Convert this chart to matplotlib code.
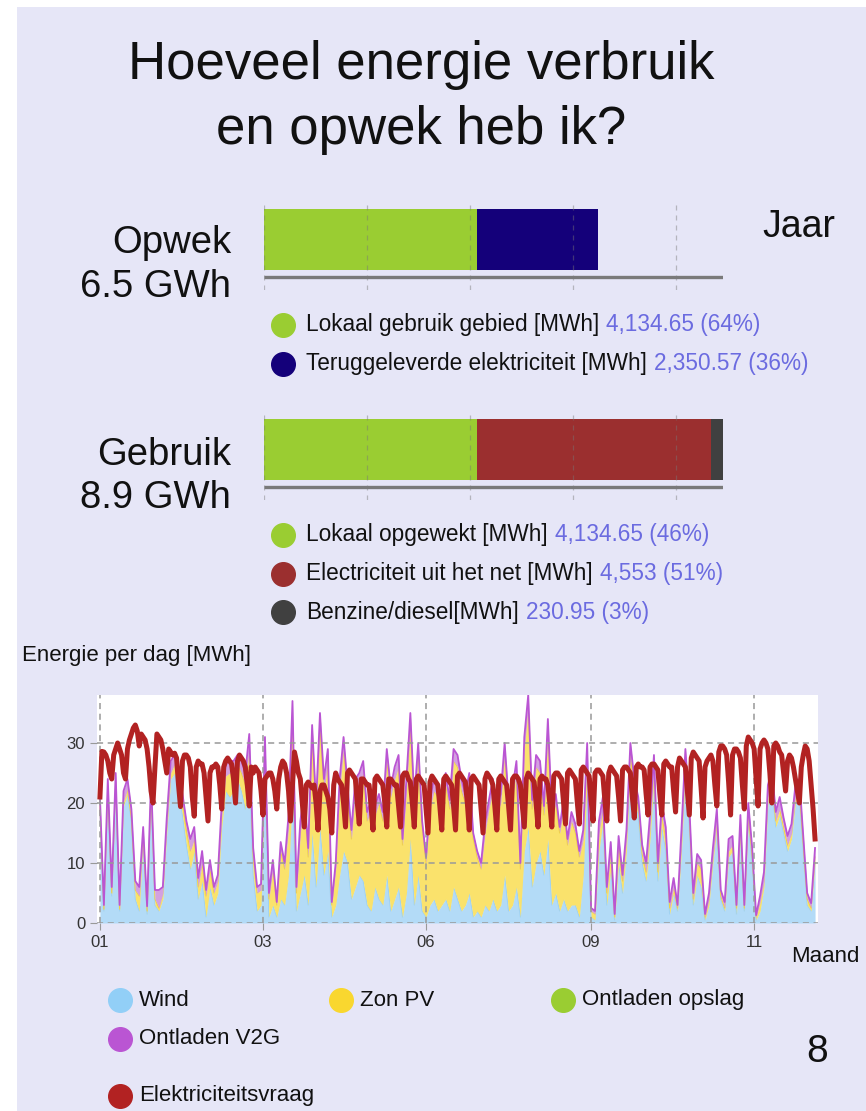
import matplotlib
matplotlib.use("Agg")
import matplotlib.pyplot as plt
from matplotlib.patches import Rectangle
import numpy as np

plt.rcParams['font.family'] = ['Liberation Sans', 'DejaVu Sans']

# ---- data ----
opwek_labels = ['Lokaal gebruik gebied [MWh]', 'Teruggeleverde elektriciteit [MWh]']
opwek_values = [4134.65, 2350.57]
opwek_colors = ['#9ACD32', '#14007A']

gebruik_labels = ['Lokaal opgewekt [MWh]', 'Electriciteit uit het net [MWh]', 'Benzine/diesel[MWh]']
gebruik_values = [4134.65, 4553, 230.95]
gebruik_colors = ['#9ACD32', '#9B2F2F', '#404040']

bar_ticks = [0, 2000, 4000, 6000, 8000]

month_ticks = [0, 83, 166, 250, 333]
month_labels = ['01', '03', '06', '09', '11']

# elektriciteitsvraag per dag (MWh)
demand = [
    21, 28.6, 28.5, 28, 27, 25, 24,
    28, 29, 30, 29, 28, 25, 24,
    29, 30.5, 31.5, 32.5, 33, 32, 29.5,
    31.5, 31, 30.5, 29, 26, 22, 20,
    26, 31.5, 31, 30.5, 29, 27, 25,
    29, 28.5, 28, 28.3, 27.5, 23, 19.4,
    27, 28, 28, 27.5, 26, 21, 17.8,
    26, 27, 26.5, 26.5, 25, 21, 17,
    25, 26, 26, 26.5, 26, 23, 19,
    26, 27, 27.5, 27, 26.5, 24, 20,
    27, 28, 27.5, 27, 26, 23, 19.5,
    26, 25, 26, 25.5, 25, 22, 18,
    24, 24.5, 25, 25, 24, 22, 19,
    24, 26, 27, 26.5, 25, 22, 17,
    23, 28.5, 27, 25, 24, 20, 16,
    23, 23.5, 23, 22.5, 23, 20, 15.5,
    22, 23, 23, 22, 21, 19, 15,
    23, 25, 24, 23.5, 23, 20, 16,
    25, 25.5, 25, 24.5, 24, 20, 16.5,
    24, 24, 23.5, 23, 23, 19.5, 15.5,
    24, 24.5, 24, 23.5, 23, 20, 16,
    24, 24, 23.5, 23, 23, 19.5, 16,
    24.5, 25, 25, 24, 23.5, 20, 16,
    24, 24.5, 24, 23.5, 23, 19, 15,
    23.5, 24.5, 24, 23.5, 23, 19.5, 15.5,
    24, 24.5, 24, 23.5, 23, 19.5, 15.5,
    24.5, 25, 24.5, 24, 23.5, 20, 15.5,
    24, 24.5, 24, 23.5, 23, 19, 15,
    24, 25, 24.5, 24, 23, 19.5, 15.5,
    24, 24.5, 24, 23.5, 23, 19.5, 15.5,
    24, 24.5, 24.5, 24, 23, 19.5, 16,
    24, 25, 24.5, 24, 23.5, 20, 16,
    24, 24.5, 24, 24, 23, 20, 16,
    24.5, 25, 25, 24.5, 24, 20, 16.5,
    25, 25.5, 25, 24.5, 24, 20, 16.5,
    25.5, 26, 25.5, 25, 24.5, 20.5, 17,
    25, 25.5, 25.5, 25, 24.5, 20.5, 17,
    25, 26, 25.5, 25, 24.5, 21, 17,
    25.5, 26, 26, 25.5, 25, 21, 17.5,
    26, 26.5, 26, 26, 25.5, 21.5, 18,
    26, 26.5, 26.5, 26, 25.5, 21.5, 18,
    26.5, 27, 26.5, 26, 26, 22, 18.5,
    26, 27.5, 27, 26.5, 26, 22, 18,
    27.5, 28.5, 28, 27.5, 27, 22.5, 17.5,
    26, 27, 27.5, 28, 27, 23, 19.5,
    28.5, 29.5, 29.5, 29, 28, 23.5, 18,
    28, 29, 29, 28.5, 27.5, 23, 19,
    29.5, 31, 30.5, 30, 29, 24, 19.5,
    29, 30, 30.5, 30, 29, 25, 20,
    29.5, 30, 29.5, 28.5, 28, 25, 22,
    27, 28, 27.5, 26, 24, 22, 20,
    26, 28, 29.5, 29, 27, 23, 19,
    14,
]

# opwek, elke twee dagen (MWh/dag)
supply_days = list(range(0, 365, 2))
wind = [
    19, 2, 22, 4.5, 23, 2, 19.5, 21.5, 17, 4,
    2, 14, 1.5, 22, 3, 2, 4, 15, 24, 25,
    22, 18, 13, 9, 12, 4, 7, 1, 6, 3,
    5, 16, 22, 21, 22, 24, 22, 19, 26, 8,
    2, 3, 26, 1, 3, 1, 4, 3, 8, 22,
    2, 5, 8, 3, 15, 6, 16, 8, 12, 1,
    3, 8, 12, 10, 4, 6, 8, 7, 3, 2,
    6, 4, 3, 8, 2, 4, 6, 1, 5, 14,
    3, 8, 2, 1, 3, 4, 2, 3, 4, 2,
    6, 4, 2, 3, 5, 1, 2, 1, 3, 2,
    4, 2, 3, 8, 2, 3, 6, 1, 12, 16,
    6, 10, 12, 8, 14, 3, 5, 2, 4, 2,
    3, 3, 1, 8, 24, 1, 0.5, 12, 17, 3,
    9, 0.5, 10, 5, 12, 26, 20, 18, 10, 7,
    14, 24, 7, 16, 12, 1.5, 5, 2, 12, 25,
    16, 3, 8, 6, 0.5, 3, 10, 16, 4, 2,
    11, 12, 1.5, 15, 2, 17, 10, 0.5, 2, 6,
    20, 23, 16, 18, 15, 12, 14, 20, 21, 12,
    3, 2, 10,
]
zon_pv = [
    0.5, 0.3, 0.5, 0.5, 0.5, 0.3, 0.8, 0.8, 0.5, 1.5,
    2.5, 0.5, 0.5, 0.5, 1, 0.5, 1, 1, 1, 1.5,
    1.5, 2, 2.5, 3, 2, 2, 3, 3.5, 3, 2,
    2, 2, 2.5, 4, 3, 2.5, 3, 4, 3, 3,
    3, 2.5, 3, 3, 6, 2, 8, 6, 8, 12,
    3, 10, 12, 8, 16, 12, 17, 14, 15, 2,
    6, 14, 17, 11, 10, 16, 15, 18, 14, 17,
    12, 16, 14, 19, 19, 20, 20, 12, 17, 19,
    16, 20, 14, 9, 16, 18, 19, 15, 19, 17,
    21, 22, 20, 17, 18, 13, 9, 8, 12, 17,
    18, 16, 17, 20, 17, 18, 19, 8, 17, 20,
    13, 16, 13, 10, 18, 14, 15, 13, 15, 11,
    14, 12, 10, 6, 4, 1, 1, 3, 2, 2,
    3, 0.5, 3, 2, 2, 2, 2, 1.5, 1.5, 1.5,
    2, 2, 1.5, 2, 2, 1, 1, 0.5, 1.5, 2,
    1.5, 1, 2, 3, 0.5, 1, 1, 1, 0.5, 0.5,
    1, 1, 1, 1, 0.5, 1, 1, 0.5, 1.5, 1,
    1, 1, 1, 1, 1, 1, 1, 1, 1, 1,
    1, 0.5, 1,
]
v2g = [
    1.5, 0.7, 1.5, 1, 1.5, 0.7, 1.7, 1.7, 1.5, 1.5,
    1.5, 1.5, 0.8, 1.5, 1.5, 3, 1, 1.5, 2, 1.5,
    1.5, 1.5, 1.5, 2, 2, 1.5, 2, 1, 1.5, 1,
    1, 2, 2, 2, 2, 1.5, 2, 2, 2.5, 1.5,
    1, 1, 2, 1, 1.5, 0.5, 1.5, 1, 2, 3,
    1, 2, 2, 1.5, 2, 2, 2, 2, 2, 0.5,
    1, 2, 2, 2, 1.5, 2, 2, 2, 1.5, 1.5,
    1.5, 1.5, 1.5, 2, 1.5, 2, 2, 1, 2, 2,
    1.5, 2, 1, 1, 1.5, 2, 2, 1.5, 2, 1.5,
    2, 2, 2, 1.5, 2, 1, 1, 1, 1.5, 1.5,
    2, 1.5, 1.5, 2, 1.5, 1.5, 2, 1, 2, 2,
    1.5, 2, 2, 1.5, 2, 1.5, 1.5, 1, 1.5, 1,
    1.5, 1.5, 1, 1.5, 2, 0.5, 0.5, 2, 2, 1,
    1.5, 0.5, 1.5, 1, 1.5, 2, 2, 1.5, 1.5, 1.5,
    2, 2, 1.5, 2, 2, 1, 1.5, 0.5, 2, 2,
    2, 1, 1.5, 1.5, 0.5, 1, 1.5, 2, 1, 1,
    2, 1.5, 0.5, 2, 0.5, 2, 1.5, 0.3, 1, 1.5,
    2, 1.5, 1.5, 2, 1.5, 1.5, 1.5, 2, 2, 1.5,
    1, 0.8, 1.5,
]

legend_names = ['Wind', 'Zon PV', 'Ontladen opslag', 'Ontladen V2G', 'Elektriciteitsvraag']
legend_colors = ['#92CFF7', '#F9D72F', '#9ACD32', '#BA55D3', '#B22222']

# ---- figure ----
W, H = 866, 1111
fig = plt.figure(figsize=(W / 100, H / 100), dpi=100)
fig.patch.set_facecolor('white')
fig.add_artist(Rectangle((17 / W, 0), 1, 1 - 7 / H, transform=fig.transFigure,
                         facecolor='#E6E6F7', edgecolor='none', zorder=-5))

xmax = sum(gebruik_values)


def bar_panel(top_px, values, colors):
    ax = fig.add_axes([264 / W, 1 - (top_px + 90) / H, 459 / W, 90 / H])
    ax.set_facecolor('none')
    left = 0
    for v, c in zip(values, colors):
        ax.barh(50.5, v, left=left, height=61, color=c, zorder=2)
        left += v
    ax.vlines(bar_ticks, 0, 90, colors='#777777', linestyles=(0, (4, 4)),
              linewidth=0.9, alpha=0.45, zorder=3)
    ax.plot([0, xmax], [13, 13], color='#7a7a7a', lw=2.4, solid_capstyle='butt', zorder=3)
    ax.set_xlim(0, xmax)
    ax.set_ylim(0, 90)
    ax.axis('off')
    return ax


bar_panel(200, opwek_values, opwek_colors)
bar_panel(410, gebruik_values, gebruik_colors)

# ---- daily chart ----
ax = fig.add_axes([97 / W, 1 - 923 / H, (818 - 97) / W, (923 - 695) / H])
ax.set_facecolor('white')
days = np.arange(len(demand))
w = np.array(wind)
p = w + np.array(zon_pv)
t = p + np.array(v2g)
ax.fill_between(supply_days, 0, w, color='#B3DBF7', lw=0, zorder=1)
ax.plot(supply_days, w, color='#9FD2F2', lw=0.8, zorder=1)
ax.fill_between(supply_days, w, p, color='#FAE26C', lw=0, zorder=1)
ax.plot(supply_days, p, color='#F0D24A', lw=0.8, zorder=1)
ax.fill_between(supply_days, p, t, color='#D4A0E0', lw=0, zorder=1)
ax.plot(supply_days, t, color='#BA55D3', lw=1.3, zorder=2)
ax.plot(days, demand, color='#B22222', lw=3.6, solid_joinstyle='round', zorder=4)

ax.set_xlim(-1.5, 365.5)
ax.set_ylim(0, 38)
ax.set_yticks([0, 10, 20, 30])
ax.set_xticks(month_ticks)
ax.set_xticklabels(month_labels)
ax.grid(True, color='#999999', linestyle=(0, (4, 3)), linewidth=1.1, zorder=3)
ax.set_axisbelow(False)
for s in ax.spines.values():
    s.set_visible(False)
ax.tick_params(axis='both', colors='#999999', labelcolor='#333333', labelsize=12, length=5)

# ---- texts (pixel coords) ----
ov = fig.add_axes([0, 0, 1, 1])
ov.set_xlim(0, W)
ov.set_ylim(H, 0)
ov.axis('off')
ov.set_zorder(10)

ov.text(421, 65, 'Hoeveel energie verbruik', ha='center', va='center', fontsize=38, color='#111111')
ov.text(421, 130, 'en opwek heb ik?', ha='center', va='center', fontsize=38, color='#111111')

ov.text(231, 243, 'Opwek', ha='right', va='center', fontsize=27.5, color='#111111')
ov.text(231, 287, f'{sum(opwek_values) / 1000:.1f} GWh', ha='right', va='center', fontsize=27.5, color='#111111')
ov.text(799, 227, 'Jaar', ha='center', va='center', fontsize=27, color='#111111')
ov.text(231, 455, 'Gebruik', ha='right', va='center', fontsize=27.5, color='#111111')
ov.text(231, 498, f'{sum(gebruik_values) / 1000:.1f} GWh', ha='right', va='center', fontsize=27.5, color='#111111')


def fmt(v):
    s = f'{v:,.2f}'
    return s[:-3] if s.endswith('.00') else s


def legend_block(y0, labels, values, colors):
    total = sum(values)
    for i, (lab, v, c) in enumerate(zip(labels, values, colors)):
        y = y0 + i * 38.5
        ov.plot(283, y, 'o', ms=17, color=c)
        txt = ov.text(306, y, lab, ha='left', va='center', fontsize=16.3, color='#111111')
        ov.annotate(f'{fmt(v)} ({round(100 * v / total)}%)', xy=(1, 0.5), xycoords=txt,
                    xytext=(5, 0), textcoords='offset points', ha='left', va='center',
                    fontsize=16.3, color='#6B6BE0')


legend_block(325, opwek_labels, opwek_values, opwek_colors)
legend_block(535, gebruik_labels, gebruik_values, gebruik_colors)

ov.text(22, 655, 'Energie per dag [MWh]', ha='left', va='center', fontsize=16, color='#111111')
ov.text(825, 957, 'Maand', ha='center', va='center', fontsize=16, color='#111111')

legend_pos = [(120, 1000), (341, 1000), (563, 1000), (120, 1039), (120, 1096)]
for (x, y), name, c in zip(legend_pos, legend_names, legend_colors):
    ov.plot(x, y, 'o', ms=17, color=c)
    ov.text(x + 19, y, name, ha='left', va='center', fontsize=16, color='#111111')

ov.text(817, 1052, '8', ha='center', va='center', fontsize=28, color='#111111')

fig.savefig('out.png', dpi=100, facecolor=fig.get_facecolor())
